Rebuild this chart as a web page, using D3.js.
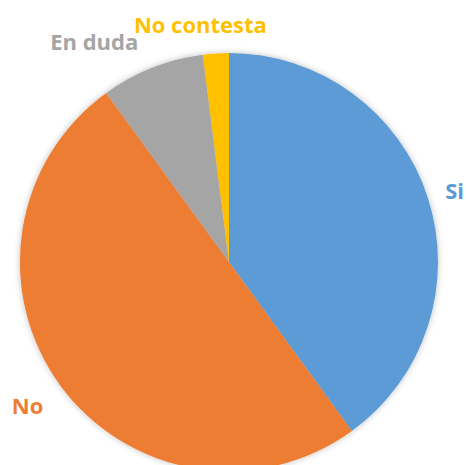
<!DOCTYPE html>
<html>
<head>
<meta charset="utf-8">
<script src="https://cdn.jsdelivr.net/npm/d3@7"></script>
<style>
  body { margin: 0; background: #fff; }
  .pie-label { font-family: "Open Sans", Lato, sans-serif; font-weight: 700; font-size: 22px; }
</style>
</head>
<body>
<div id="chart"></div>
<script>
const categories = ["Si", "No", "En duda", "No contesta"];
const values = [40, 50, 8, 2];
const colors = ["#5B9BD5", "#ED7D31", "#A5A5A5", "#FFC000"];

const width = 467, height = 465;
const cx = 229, cy = 262, radius = 209;

const svg = d3.select("#chart").append("svg")
    .attr("width", width)
    .attr("height", height);

const defs = svg.append("defs");
const shadow = defs.append("filter").attr("id", "shadow")
    .attr("x", "-10%").attr("y", "-10%").attr("width", "120%").attr("height", "120%");
shadow.append("feDropShadow")
    .attr("dx", 0).attr("dy", 0).attr("stdDeviation", 3)
    .attr("flood-color", "#000").attr("flood-opacity", 0.25);

const data = categories.map((c, i) => ({ name: c, value: values[i], color: colors[i] }));

const pie = d3.pie().value(d => d.value).sort(null);
const arc = d3.arc().innerRadius(0).outerRadius(radius);

const g = svg.append("g")
    .attr("transform", `translate(${cx},${cy})`)
    .attr("filter", "url(#shadow)");

const arcs = pie(data);

g.selectAll("path").data(arcs)
    .join("path")
    .attr("d", arc)
    .attr("fill", d => d.data.color);

// label positions follow Excel's outside-end placement, nudged by hand
const labelArc = d3.arc().innerRadius(radius + 24).outerRadius(radius + 24);
const labelNudge = {
    "Si": [4, 0],
    "No": [-13, 6],
    "En duda": [-49, -4],
    "No contesta": [-14, -5]
};

svg.append("g")
    .attr("transform", `translate(${cx},${cy})`)
    .selectAll("text").data(arcs)
    .join("text")
    .attr("class", "pie-label")
    .attr("transform", d => {
        const [x, y] = labelArc.centroid(d);
        const n = labelNudge[d.data.name];
        return `translate(${x + n[0]},${y + n[1]})`;
    })
    .attr("text-anchor", "middle")
    .attr("dominant-baseline", "central")
    .attr("fill", d => d.data.color)
    .text(d => d.data.name);
</script>
</body>
</html>
